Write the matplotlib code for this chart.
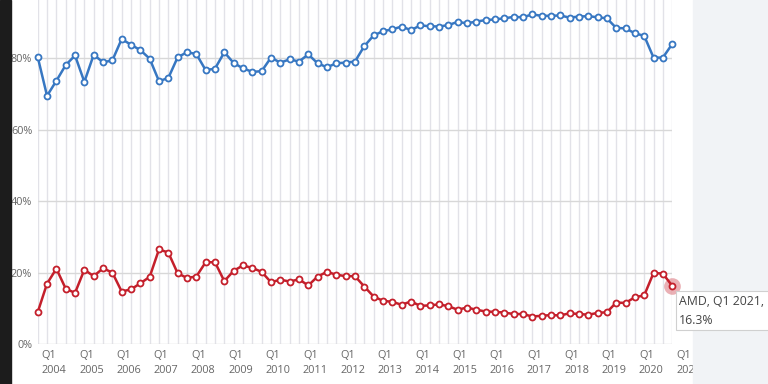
import matplotlib
matplotlib.use("Agg")
import matplotlib.pyplot as plt
import matplotlib.transforms as mtransforms
from matplotlib.patches import Rectangle

plt.rcParams['font.family'] = ['Open Sans', 'DejaVu Sans']

# quarterly share, Q1 2004 .. Q1 2021
years = list(range(2004, 2022))
intel = [80.4, 69.5, 73.7, 78.1, 80.8, 73.4, 81.0, 78.9, 79.4, 85.4, 83.8, 82.3,
         79.9, 73.6, 74.5, 80.3, 81.7, 81.2, 76.7, 77.1, 81.7, 78.7, 77.2, 76.2,
         76.4, 80.2, 78.8, 79.7, 79.1, 81.1, 78.6, 77.5, 78.6, 78.8, 79.1, 83.4,
         86.4, 87.6, 88.1, 88.9, 87.9, 89.2, 89.0, 88.9, 89.3, 90.2, 89.8, 90.3,
         90.7, 90.9, 91.2, 91.6, 91.5, 92.3, 91.9, 91.9, 92.0, 91.4, 91.7, 91.8,
         91.5, 91.2, 88.5, 88.4, 87.0, 86.3, 80.2, 80.2, 84.0]
amd = [8.9, 16.9, 21.1, 15.5, 14.3, 20.8, 19.0, 21.2, 20.0, 14.7, 15.3, 17.0,
       18.8, 26.5, 25.6, 19.8, 18.5, 18.9, 22.9, 22.9, 17.6, 20.5, 22.0, 21.3,
       20.2, 17.3, 18.0, 17.5, 18.1, 16.4, 18.9, 20.2, 19.4, 19.0, 19.0, 16.1,
       13.3, 12.1, 11.8, 11.0, 11.9, 10.7, 10.8, 11.1, 10.6, 9.6, 10.2, 9.6,
       9.1, 9.0, 8.8, 8.4, 8.4, 7.7, 7.9, 8.1, 8.0, 8.6, 8.4, 8.2,
       8.7, 8.9, 11.6, 11.5, 13.1, 13.6, 19.9, 19.7, 16.3]
yticks = [0, 20, 40, 60, 80]

x = list(range(len(intel)))
blue = '#3777c2'
red = '#c41f2b'

fig = plt.figure(figsize=(7.68, 3.84), dpi=100)
W, H = 768, 384
ax = fig.add_axes([37.7 / W, 40 / H, (672.2 - 37.7) / W, 344 / H])

for xi in x:
    ax.axvline(xi, color='#e2e2e8', lw=1, zorder=0)
for yt in yticks:
    ax.axhline(yt, color='#d8d8d8', lw=1, zorder=0.5)

ax.plot(x, intel, color=blue, lw=1.8, marker='o', markersize=4.3,
        markerfacecolor='white', markeredgecolor=blue, markeredgewidth=1.3,
        clip_on=False, zorder=3)
ax.plot(x, amd, color=red, lw=1.8, marker='o', markersize=4.3,
        markerfacecolor='white', markeredgecolor=red, markeredgewidth=1.3,
        clip_on=False, zorder=3)
# hovered point halo
ax.plot(x[-1], amd[-1], 'o', markersize=12, color=red, alpha=0.35,
        markeredgewidth=0, clip_on=False, zorder=2)

ax.set_xlim(0, 68)
ax.set_ylim(0, 344 / 3.571)
for s in ax.spines.values():
    s.set_visible(False)

ax.set_yticks(yticks)
ax.set_yticklabels([f"{v}%" for v in yticks], fontsize=7.8, color='#666666')
ax.tick_params(axis='y', length=0, pad=4)

ax.set_xticks(x[::4])
ax.set_xticklabels([f"Q1\n{y}" for y in years], fontsize=7.8, color='#666666',
                   linespacing=1.5)
ax.tick_params(axis='x', length=0, pad=4)
offset = mtransforms.ScaledTranslation(4 / 100, 0, fig.dpi_scale_trans)
for lab in ax.get_xticklabels():
    lab.set_horizontalalignment('left')
    lab.set_transform(lab.get_transform() + offset)

# page decoration around the chart
fig.patches.append(Rectangle((0, 0), 11 / W, 1, transform=fig.transFigure,
                             color='#1c1c1c', zorder=5))
fig.patches.append(Rectangle((693 / W, 0), 1, 1, transform=fig.transFigure,
                             color='#f1f3f6', zorder=5))

# tooltip
fig.patches.append(Rectangle((676 / W, (384 - 330) / H), 100 / W, 39 / H,
                             transform=fig.transFigure, facecolor='white',
                             edgecolor='#d0d0d0', lw=0.8, zorder=6))
fig.text(679 / W, (384 - 301.5) / H, "AMD, Q1 2021,", fontsize=8.8,
         color='#444444', va='center', ha='left', zorder=7)
fig.text(679 / W, (384 - 320.5) / H, "16.3%", fontsize=8.8,
         color='#444444', va='center', ha='left', zorder=7)

fig.savefig("out.png", dpi=100)
